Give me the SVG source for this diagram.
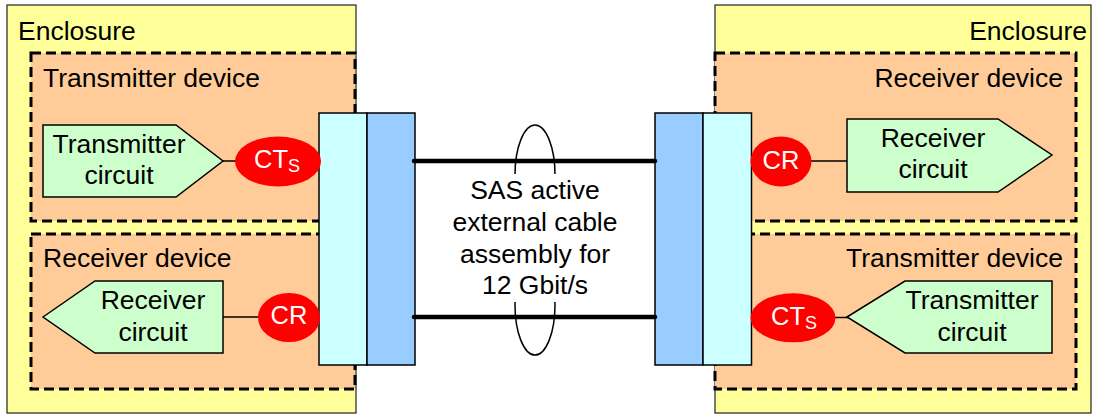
<svg xmlns="http://www.w3.org/2000/svg" width="1094" height="416" viewBox="0 0 1094 416">
<style>
text{font-family:"Liberation Sans",Arial,sans-serif;font-size:26.5px;fill:#000}
.encl{fill:#ffff99;stroke:#222;stroke-width:1.2}
.dev{fill:#ffcc99;stroke:#000;stroke-width:3;stroke-dasharray:10 5}
.circ{fill:#ccffcc;stroke:#000;stroke-width:1.5}
.term{fill:#ff0000;stroke:none}
.tt{fill:#fff;font-size:25.5px}
.sub{font-size:18px}
.conA{fill:#ccffff;stroke:#000;stroke-width:1.5}
.conB{fill:#99ccff;stroke:#000;stroke-width:1.5}
.wire{stroke:#000;stroke-width:1.5;fill:none}
.cable{stroke:#000;stroke-width:4.5;stroke-linecap:round}
.c{text-anchor:middle}
.e{text-anchor:end}
</style>
<rect width="1094" height="416" fill="#fff"/>
<g id="enclosure-left">
<rect class="encl" x="7" y="5" width="349" height="408"/>
<text x="18" y="40">Enclosure</text>
</g>
<g id="enclosure-right">
<rect class="encl" x="715" y="5" width="376" height="408"/>
<text class="e" x="1087" y="40">Enclosure</text>
</g>
<g id="tx-device-left">
<rect class="dev" x="31" y="53" width="324" height="168"/>
<text x="43" y="87">Transmitter device</text>
</g>
<g id="rx-device-left">
<rect class="dev" x="31" y="234" width="324" height="155"/>
<text x="43" y="267">Receiver device</text>
</g>
<g id="rx-device-right">
<rect class="dev" x="715" y="53" width="361" height="168"/>
<text class="e" x="1063" y="87">Receiver device</text>
</g>
<g id="tx-device-right">
<rect class="dev" x="715" y="234" width="361" height="155"/>
<text class="e" x="1063" y="267">Transmitter device</text>
</g>
<g id="connector-left">
<rect class="conA" x="319" y="113" width="48" height="252"/>
<rect class="conB" x="367" y="113" width="48" height="252"/>
</g>
<g id="connector-right">
<rect class="conB" x="655" y="113" width="48" height="252"/>
<rect class="conA" x="703" y="113" width="48.5" height="252"/>
</g>
<g id="connectors">
<line class="wire" x1="223" y1="161" x2="236" y2="161"/>
<line class="wire" x1="223" y1="317" x2="259" y2="317"/>
<line class="wire" x1="811" y1="161" x2="847" y2="161"/>
<line class="wire" x1="835" y1="317.5" x2="848" y2="317.5"/>
<line class="cable" x1="414" y1="161" x2="655" y2="161"/>
<line class="cable" x1="414" y1="317" x2="655" y2="317"/>
<ellipse class="wire" cx="535" cy="175" rx="20" ry="50"/>
<ellipse class="wire" cx="535" cy="305" rx="20" ry="50"/>
</g>
<g id="cable-label">
<rect x="450" y="174" width="170" height="128" fill="#fff"/>
<text class="c" x="535" y="199">SAS active</text>
<text class="c" x="535" y="231">external cable</text>
<text class="c" x="535" y="263">assembly for</text>
<text class="c" x="535" y="294">12 Gbit/s</text>
</g>
<g id="tx-circuit-left">
<polygon class="circ" points="43,125 176,125 223,161 176,197 43,197"/>
<text class="c" x="119" y="153">Transmitter</text>
<text class="c" x="119" y="184">circuit</text>
</g>
<g id="cts-left">
<ellipse class="term" cx="278" cy="161.5" rx="43" ry="25"/>
<text class="tt" x="254" y="167.5">CT<tspan class="sub" dy="4">S</tspan></text>
</g>
<g id="rx-circuit-left">
<polygon class="circ" points="43,317 95,281 223,281 223,353 95,353"/>
<text class="c" x="153" y="309">Receiver</text>
<text class="c" x="153" y="341">circuit</text>
</g>
<g id="cr-left">
<ellipse class="term" cx="289" cy="317.5" rx="31" ry="24.5"/>
<text class="tt" x="270.5" y="324">CR</text>
</g>
<g id="cr-right">
<ellipse class="term" cx="781" cy="161.5" rx="30.5" ry="25"/>
<text class="tt" x="762.5" y="168.5">CR</text>
</g>
<g id="rx-circuit-right">
<polygon class="circ" points="847,119 998,119 1052,155 998,192 847,192"/>
<text class="c" x="933" y="147">Receiver</text>
<text class="c" x="933" y="178">circuit</text>
</g>
<g id="cts-right">
<ellipse class="term" cx="793" cy="317.8" rx="42.5" ry="24.5"/>
<text class="tt" x="771" y="324.5">CT<tspan class="sub" dy="4">S</tspan></text>
</g>
<g id="tx-circuit-right">
<polygon class="circ" points="847,317 905,281 1052,281 1052,353 905,353"/>
<text class="c" x="972" y="309">Transmitter</text>
<text class="c" x="972" y="341">circuit</text>
</g>
</svg>
